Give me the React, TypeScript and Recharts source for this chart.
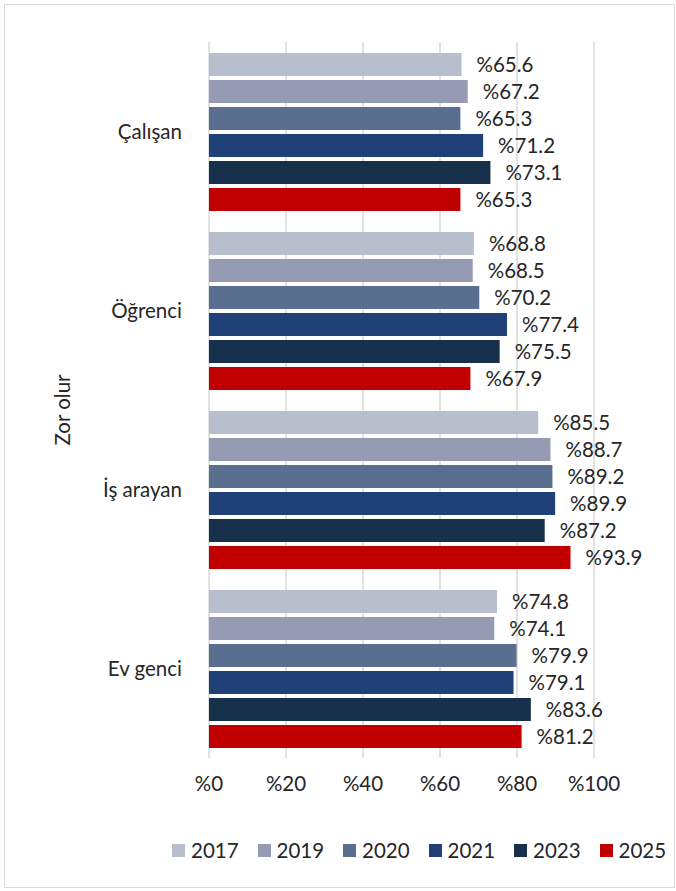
import React from 'react';
import { BarChart, Bar, XAxis, YAxis, CartesianGrid, Legend, LabelList, Label } from 'recharts';

const categories = ['Çalışan', 'Öğrenci', 'İş arayan', 'Ev genci'];
const years = ['2017', '2019', '2020', '2021', '2023', '2025'];
const colors = ['#b8bfcc', '#969bb4', '#5a6e90', '#1f4178', '#17314d', '#c00000'];

const v2017 = [65.6, 68.8, 85.5, 74.8];
const v2019 = [67.2, 68.5, 88.7, 74.1];
const v2020 = [65.3, 70.2, 89.2, 79.9];
const v2021 = [71.2, 77.4, 89.9, 79.1];
const v2023 = [73.1, 75.5, 87.2, 83.6];
const v2025 = [65.3, 67.9, 93.9, 81.2];

const xTicks = [0, 20, 40, 60, 80, 100];

const seriesValues = [v2017, v2019, v2020, v2021, v2023, v2025];

const data = categories.map((name, i) => {
  const row: Record<string, string | number> = { name };
  years.forEach((y, j) => {
    row[y] = seriesValues[j][i];
  });
  return row;
});

const FONT = 'Lato, "Open Sans", sans-serif';
const TEXT = '#262626';
const FS = 20.5;

const LegendContent = () => (
  <div style={{ display: 'flex', fontFamily: FONT, fontSize: FS, color: TEXT }}>
    {years.map((y, i) => (
      <div key={y} style={{ display: 'flex', alignItems: 'center', width: 85.5 }}>
        <span style={{ width: 13, height: 13, background: colors[i], marginRight: 6, display: 'inline-block' }} />
        <span>{y}</span>
      </div>
    ))}
  </div>
);

const App = () => {
  return (
    <div style={{ position: 'absolute', left: 0, top: 0, width: 676, height: 891, background: '#fff' }}>
      <div style={{ position: 'absolute', left: 4, top: 4, width: 671, height: 884, border: '1px solid #d9d9d9', boxSizing: 'border-box' }} />
      <BarChart
        width={676}
        height={891}
        data={data}
        layout="vertical"
        margin={{ top: 42, right: 82, bottom: 54, left: 40 }}
        barCategoryGap={11}
        barGap={4}
      >
        <CartesianGrid horizontal={false} stroke="#d9d9d9" strokeWidth={1.5} />
        <XAxis
          type="number"
          domain={[0, 100]}
          ticks={xTicks}
          axisLine={false}
          tickLine={false}
          tickMargin={12}
          height={55}
          tickFormatter={(v) => `%${v}`}
          tick={{ fontFamily: FONT, fontSize: FS, fill: TEXT }}
        />
        <YAxis
          type="category"
          dataKey="name"
          width={169}
          axisLine={false}
          tickLine={false}
          tickMargin={21}
          tick={{ fontFamily: FONT, fontSize: FS, fill: TEXT }}
        >
          <Label
            content={({ viewBox }: any) => {
              const cx = 62;
              const cy = viewBox.y + viewBox.height / 2 + 10;
              return (
                <text
                  x={cx}
                  y={cy}
                  transform={`rotate(-90 ${cx} ${cy})`}
                  textAnchor="middle"
                  dominantBaseline="central"
                  fontFamily={FONT}
                  fontSize={FS}
                  fill={TEXT}
                >
                  Zor olur
                </text>
              );
            }}
          />
        </YAxis>
        <Legend
          verticalAlign="bottom"
          content={<LegendContent />}
          wrapperStyle={{ left: 172, top: 838, width: 520, bottom: 'auto' }}
        />
        {years.map((y, i) => (
          <Bar key={y} dataKey={y} fill={colors[i]} isAnimationActive={false}>
            <LabelList
              dataKey={y}
              position="right"
              offset={15}
              formatter={(v: any) => `%${v}`}
              style={{ fontFamily: FONT, fontSize: FS, fill: TEXT }}
            />
          </Bar>
        ))}
      </BarChart>
    </div>
  );
};

export default App;
